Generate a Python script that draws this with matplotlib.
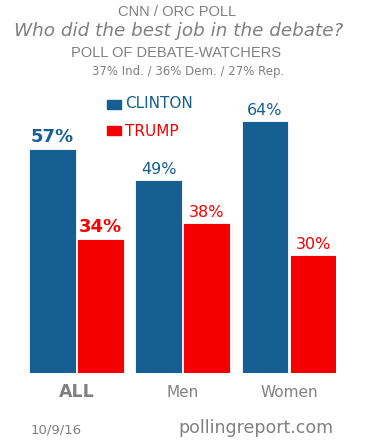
import matplotlib.pyplot as plt
import numpy as np

groups = ["ALL", "Men", "Women"]
clinton = [57, 49, 64]
trump = [34, 38, 30]
bold_group = [True, False, False]

blue = "#155f92"
red = "#f50000"
gray = "#808080"

fig = plt.figure(figsize=(3.77, 4.40), dpi=100)
ax = fig.add_axes([29 / 377, 1 - 372.7 / 440, 307 / 377, 251.7 / 440])

x = np.arange(len(groups))
off = 0.226
w = 0.44
ax.bar(x - off, clinton, w, color=blue, edgecolor="white", linewidth=0.6)
ax.bar(x + off, trump, w, color=red, edgecolor="white", linewidth=0.6)
ax.set_xlim(-0.447, 2.442)
ax.set_ylim(0, 64)
ax.axis("off")

for i in range(len(groups)):
    fw = "bold" if bold_group[i] else "normal"
    fs = 13 if bold_group[i] else 11.5
    ax.annotate(f"{clinton[i]}%", (x[i] - off, clinton[i]), xytext=(0, 2),
                textcoords="offset points", ha="center", va="bottom",
                color=blue, fontsize=fs, fontweight=fw)
    ax.annotate(f"{trump[i]}%", (x[i] + off, trump[i]), xytext=(0, 2),
                textcoords="offset points", ha="center", va="bottom",
                color=red, fontsize=fs, fontweight=fw)
    ax.annotate(groups[i], (x[i], 0), xytext=(0, -14), textcoords="offset points",
                ha="center", va="center", color=gray,
                fontsize=12.5 if bold_group[i] else 11, fontweight=fw)

# legend
fig.patches.append(plt.Rectangle((107 / 377, 1 - 109 / 440), 14 / 377, 9 / 440,
                                 transform=fig.transFigure, color=blue))
fig.patches.append(plt.Rectangle((107 / 377, 1 - 135 / 440), 14 / 377, 9 / 440,
                                 transform=fig.transFigure, color=red))
fig.text(125 / 377, 1 - 104 / 440, "CLINTON", color=blue, fontsize=11, va="center")
fig.text(125 / 377, 1 - 131 / 440, "TRUMP", color=red, fontsize=11, va="center")

# titles
fig.text(0.47, 1 - 12 / 440, "CNN / ORC POLL", ha="center", va="center",
         color=gray, fontsize=10.5, family="Liberation Sans")
fig.text(0.474, 1 - 31 / 440, "Who did the best job in the debate?", ha="center",
         va="center", color=gray, fontsize=13.2, style="italic")
fig.text(0.467, 1 - 53 / 440, "POLL OF DEBATE-WATCHERS", ha="center", va="center",
         color=gray, fontsize=10.5, family="Liberation Sans")
fig.text(0.5, 1 - 71 / 440, "37% Ind. / 36% Dem. / 27% Rep.", ha="center",
         va="center", color=gray, fontsize=8.5)

fig.text(31 / 377, 1 - 430 / 440, "10/9/16", color=gray, fontsize=9.5, va="center")
fig.text(333 / 377, 1 - 428 / 440, "pollingreport.com", color=gray, fontsize=12.5,
         va="center", ha="right")

fig.savefig("out.png", dpi=100)
